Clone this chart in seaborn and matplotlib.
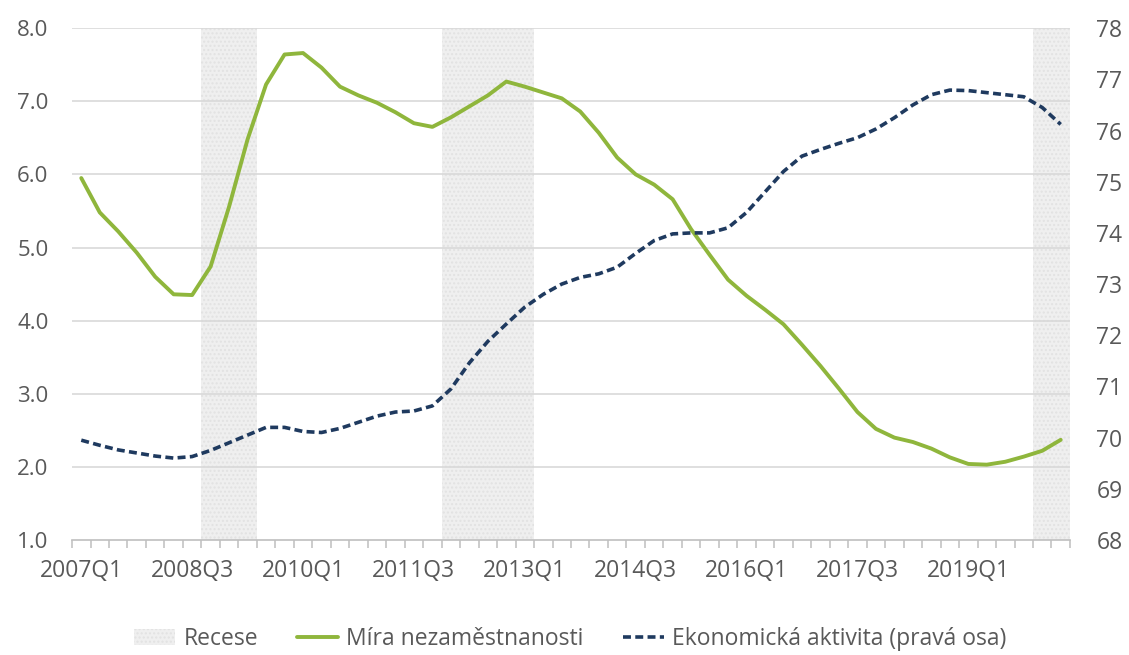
import numpy as np
import pandas as pd
import matplotlib
matplotlib.use("Agg")
import matplotlib.pyplot as plt
import seaborn as sns
from matplotlib.patches import Patch
from matplotlib.lines import Line2D
from matplotlib.ticker import FixedLocator, FuncFormatter

# ---------------- data ----------------
quarters = [f"{y}Q{q}" for y in range(2007, 2021) for q in range(1, 5)][:54]

unemployment = [5.95, 5.48, 5.22, 4.93, 4.60, 4.36, 4.35, 4.74, 5.56, 6.48,
                7.23, 7.64, 7.66, 7.46, 7.20, 7.08, 6.98, 6.85, 6.70, 6.65,
                6.78, 6.93, 7.08, 7.27, 7.20, 7.12, 7.04, 6.86, 6.57, 6.23,
                6.00, 5.86, 5.66, 5.25, 4.90, 4.56, 4.34, 4.15, 3.95, 3.67,
                3.38, 3.07, 2.75, 2.52, 2.40, 2.34, 2.25, 2.13, 2.04, 2.03,
                2.07, 2.14, 2.22, 2.37]

activity = [69.95, 69.85, 69.76, 69.70, 69.64, 69.60, 69.63, 69.75, 69.90, 70.05,
            70.20, 70.20, 70.12, 70.10, 70.18, 70.30, 70.42, 70.50, 70.52, 70.62,
            70.95, 71.46, 71.88, 72.22, 72.55, 72.80, 73.00, 73.13, 73.20, 73.33,
            73.60, 73.85, 73.98, 74.00, 74.00, 74.10, 74.40, 74.80, 75.20, 75.50,
            75.63, 75.75, 75.86, 76.03, 76.25, 76.50, 76.70, 76.79, 76.78, 76.74,
            76.70, 76.66, 76.45, 76.12]

recession_quarters = ["2008Q4", "2009Q1", "2009Q2",
                      "2012Q1", "2012Q2", "2012Q3", "2012Q4", "2013Q1",
                      "2020Q1", "2020Q2"]

tick_labels = ["2007Q1", "2008Q3", "2010Q1", "2011Q3", "2013Q1",
               "2014Q3", "2016Q1", "2017Q3", "2019Q1"]

left_ticks = [1.0, 2.0, 3.0, 4.0, 5.0, 6.0, 7.0, 8.0]
right_ticks = [68, 69, 70, 71, 72, 73, 74, 75, 76, 77, 78]

labels = ["Recese", "Míra nezaměstnanosti", "Ekonomická aktivita (pravá osa)"]

df = pd.DataFrame({"quarter": quarters,
                   "unemployment": unemployment,
                   "activity": activity})
df["pos"] = np.arange(len(df))

# ---------------- style ----------------
sns.set_theme(style="white")
plt.rcParams["font.family"] = ["Open Sans", "DejaVu Sans"]
txt = "#595959"
green = "#8fb63c"
navy = "#1f3a5f"
grid_c = "#d9d9d9"
shade = "#efefef"
hatch_c = "#e2e2e2"
dash = (0, (2.2, 1.2))

fig = plt.figure(figsize=(11.29, 6.55), dpi=100)
ax = fig.add_axes([0.0638, 0.1756, 0.8839, 0.7814])
ax2 = ax.twinx()

# recession shading
for q in recession_quarters:
    i = quarters.index(q)
    ax.axvspan(i - 0.5, i + 0.5, facecolor=shade, edgecolor=hatch_c,
               hatch="....", linewidth=0, zorder=0.5)

# grid lines
for v in left_ticks[1:]:
    ax.axhline(v, color=grid_c, linewidth=1.2, zorder=1)

sns.lineplot(data=df, x="pos", y="unemployment", ax=ax, color=green,
             linewidth=2.8, zorder=3, legend=False)
sns.lineplot(data=df, x="pos", y="activity", ax=ax2, color=navy,
             linewidth=2.6, zorder=3, legend=False, linestyle=dash)

n = len(quarters)
ax.set_xlim(-0.5, n - 0.5)
ax.set_ylim(left_ticks[0], left_ticks[-1])
ax2.set_ylim(right_ticks[0], right_ticks[-1])

ax.set_yticks(left_ticks)
ax.yaxis.set_major_formatter(FuncFormatter(lambda v, p: f"{v:.1f}"))
ax2.set_yticks(right_ticks)

major_pos = [quarters.index(t) for t in tick_labels]
ax.set_xticks(major_pos)
ax.set_xticklabels(tick_labels)
ax.xaxis.set_minor_locator(FixedLocator(np.arange(-0.5, n, 1.0)))
ax.tick_params(axis="x", which="major", bottom=True, length=0, pad=14,
               labelsize=16.5, labelcolor=txt)
ax.tick_params(axis="x", which="minor", bottom=True, length=6, width=1.1,
               color="#bfbfbf", direction="out")
ax.tick_params(axis="y", length=0, pad=17, labelsize=16, labelcolor=txt)
ax2.tick_params(axis="y", length=0, pad=19, labelsize=16.5, labelcolor=txt)

ax.set_xlabel("")
ax.set_ylabel("")
ax2.set_ylabel("")
ax2.grid(False)
ax.grid(False)
for a in (ax, ax2):
    for s in ("left", "right", "top", "bottom"):
        a.spines[s].set_visible(False)
ax.spines["bottom"].set_visible(True)
ax.spines["bottom"].set_color("#bfbfbf")
ax.spines["bottom"].set_linewidth(1.2)

handles = [Patch(facecolor=shade, edgecolor=hatch_c, hatch="....", linewidth=0),
           Line2D([], [], color=green, linewidth=2.8),
           Line2D([], [], color=navy, linewidth=2.6, linestyle=dash)]
fig.legend(handles, labels, loc="center", bbox_to_anchor=(0.505, 0.024),
           ncol=3, frameon=False, fontsize=16.5, labelcolor=txt,
           handlelength=1.8, handletextpad=0.35, columnspacing=1.7)

fig.savefig("out.png", dpi=100)
